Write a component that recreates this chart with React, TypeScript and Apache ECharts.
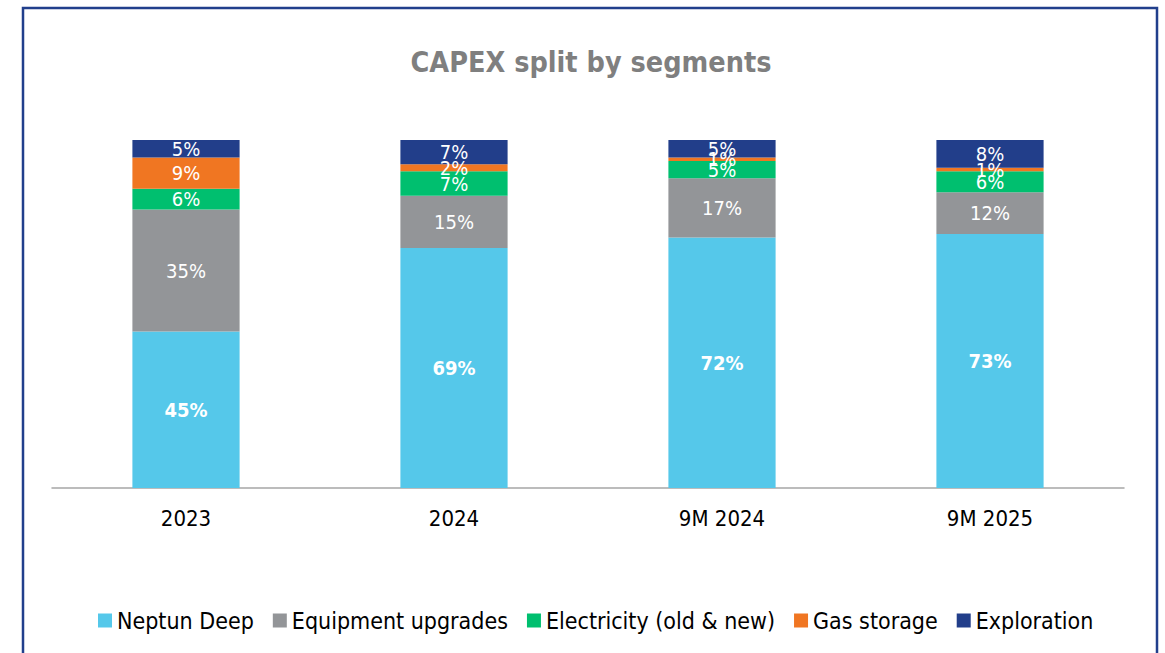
import React, { useEffect, useRef } from "react";
import * as echarts from "echarts";

const categories = ["2023", "2024", "9M 2024", "9M 2025"];
const neptunDeep = [45, 69, 72, 73];
const equipmentUpgrades = [35, 15, 17, 12];
const electricity = [6, 7, 5, 6];
const gasStorage = [9, 2, 1, 1];
const exploration = [5, 7, 5, 8];

const seriesDefs = [
  { name: "Neptun Deep", data: neptunDeep, color: "#55c8ea", bold: true },
  { name: "Equipment upgrades", data: equipmentUpgrades, color: "#939598", bold: false },
  { name: "Electricity (old & new)", data: electricity, color: "#00bf6f", bold: false },
  { name: "Gas storage", data: gasStorage, color: "#f07622", bold: false },
  { name: "Exploration", data: exploration, color: "#223e8a", bold: false },
];

const FONT = "'DejaVu Sans Condensed', 'DejaVu Sans', sans-serif";

export default function App() {
  const ref = useRef<HTMLDivElement>(null);
  useEffect(() => {
    if (!ref.current) return;
    const chart = echarts.init(ref.current, null, { renderer: "svg" });
    chart.setOption({
      animation: false,
      backgroundColor: "#ffffff",
      title: {
        text: "CAPEX split by segments",
        left: 586,
        textAlign: "center",
        top: 43,
        textStyle: { fontFamily: FONT, fontSize: 28.5, fontWeight: "bold", color: "#7f7f7f" },
      },
      graphic: [
        {
          type: "rect",
          shape: { x: 23, y: 8, width: 1134, height: 700 },
          style: { fill: "none", stroke: "#213f8c", lineWidth: 2.5 },
          silent: true,
        },
      ],
      grid: { left: 52, right: 41, top: 140, bottom: 165 },
      xAxis: {
        type: "category",
        data: categories,
        axisLine: { lineStyle: { color: "#a6a6a6", width: 1.5 } },
        axisTick: { show: false },
        axisLabel: { fontFamily: FONT, fontSize: 22, color: "#000", margin: 19 },
      },
      yAxis: { type: "value", min: 0, max: 100, show: false, splitLine: { show: false } },
      legend: {
        bottom: 16,
        left: 93,
        itemWidth: 14,
        itemHeight: 14,
        itemGap: 19,
        icon: "rect",
        textStyle: { fontFamily: FONT, fontSize: 23, color: "#000" },
        data: seriesDefs.map((s) => s.name),
      },
      series: seriesDefs.map((s) => ({
        name: s.name,
        type: "bar",
        stack: "total",
        data: s.data,
        barWidth: "40%",
        itemStyle: { color: s.color },
        label: {
          show: true,
          position: "inside",
          formatter: "{c}%",
          color: "#fff",
          fontFamily: FONT,
          fontSize: 20,
          fontWeight: s.bold ? "bold" : "normal",
        },
      })),
    });
    return () => chart.dispose();
  }, []);
  return (
    <div
      ref={ref}
      style={{ position: "absolute", left: 0, top: 0, width: 1165, height: 653 }}
    />
  );
}
